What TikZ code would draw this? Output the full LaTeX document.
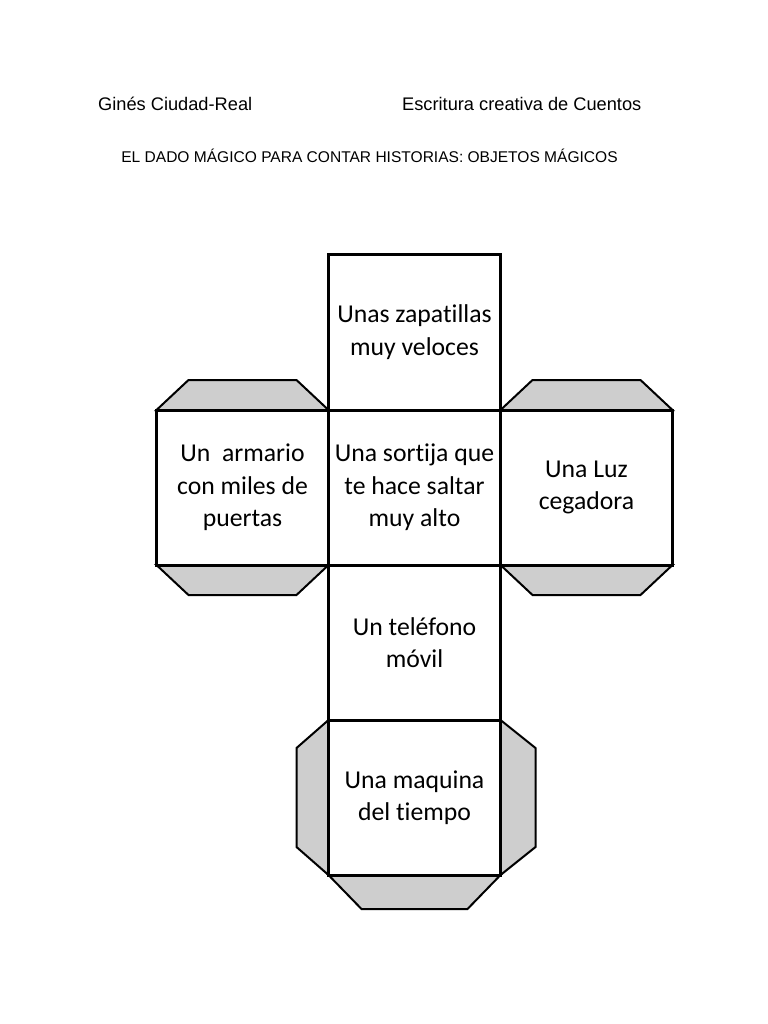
\documentclass[tikz,border=0pt]{standalone}
\usepackage{fontspec}
\setmainfont{Liberation Sans}
\newfontfamily\calibri[Ligatures={NoCommon}]{Carlito}
\usepackage{tikz}
\usetikzlibrary{positioning,backgrounds}
\definecolor{tabgray}{RGB}{206,206,206}

\begin{document}
\begin{tikzpicture}[x=1bp, y=-1bp,
    face/.style={draw,line width=3bp,minimum width=172bp,minimum height=155bp,inner sep=0pt,outer sep=0pt,align=center,font=\calibri\fontsize{25.8}{32.5}\selectfont},
    tab/.style={draw,line width=2bp,fill=tabgray}]
    \useasboundingbox (0,0) rectangle (768,1024);

    \node[anchor=base west,inner sep=0pt,font=\fontsize{18.3}{22}\selectfont] (author) at (98,110) {Ginés Ciudad-Real};
    \node[anchor=base west,inner sep=0pt,font=\fontsize{18.3}{22}\selectfont] (course) at (402,110) {Escritura creativa de Cuentos};
    \node[anchor=base,inner sep=0pt,font=\fontsize{15.6}{19}\selectfont] (title) at (369.5,162)
      {EL DADO MÁGICO PARA CONTAR HISTORIAS: OBJETOS MÁGICOS};

    \node[face,minimum height=156bp] (shoes) at (414.5,332) {Unas zapatillas\\muy veloces};
    \node[face,below=0pt of shoes] (ring) {Una sortija que\\te hace saltar\\muy alto};
    \node[face,left=0pt of ring] (wardrobe) {Un\ \ armario\\con miles de\\puertas};
    \node[face,right=0pt of ring] (light) {Una Luz\\cegadora};
    \node[face,below=0pt of ring] (phone) {Un teléfono\\móvil};
    \node[face,below=0pt of phone] (timemachine) {Una maquina\\del tiempo};

    \begin{scope}[on background layer]
      \foreach \f in {wardrobe,light} {
        \draw[tab] (\f.north west) -- ++(32,-30) -- ++(108,0) -- (\f.north east) -- cycle;
        \draw[tab] (\f.south west) -- ++(32,30) -- ++(108,0) -- (\f.south east) -- cycle;
      }
      \draw[tab] (timemachine.north west) -- ++(-32,28) -- ++(0,99) -- (timemachine.south west) -- cycle;
      \draw[tab] (timemachine.north east) -- ++(35,28) -- ++(0,99) -- (timemachine.south east) -- cycle;
      \draw[tab] (timemachine.south west) -- ++(33,34) -- ++(106,0) -- (timemachine.south east) -- cycle;
    \end{scope}
  \end{tikzpicture}
\end{document}
